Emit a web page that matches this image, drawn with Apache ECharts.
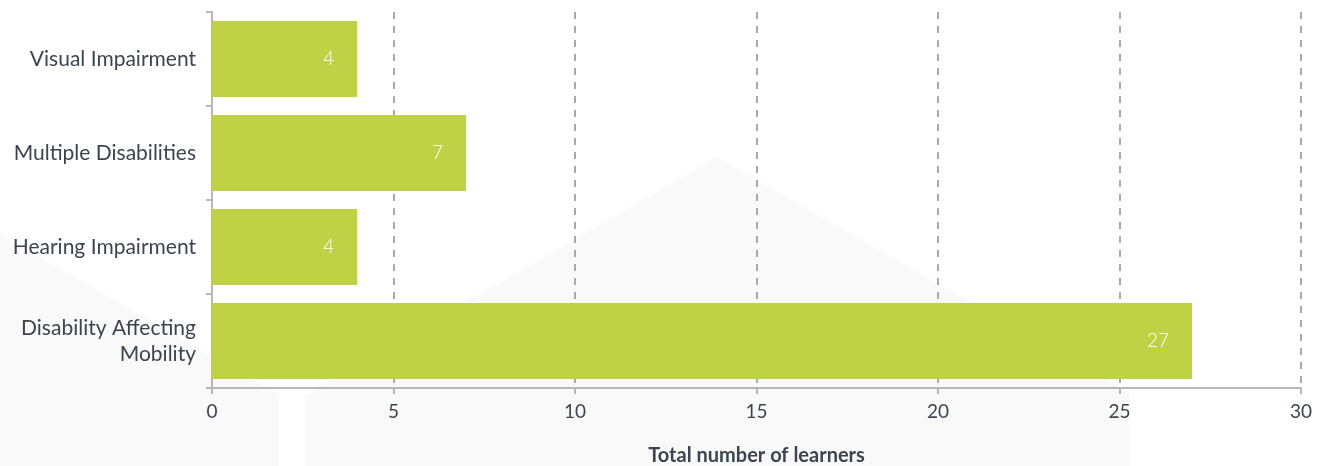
<!DOCTYPE html>
<html>
<head>
<meta charset="utf-8">
<script src="https://cdn.jsdelivr.net/npm/echarts@6/dist/echarts.min.js"></script>
<style>
  html, body { margin: 0; padding: 0; background: #ffffff; }
  #chart { width: 1322px; height: 466px; }
</style>
</head>
<body>
<div id="chart"></div>
<script>
// Learner counts by type of disability (listed top to bottom)
const categories = ['Visual Impairment', 'Multiple Disabilities', 'Hearing Impairment', 'Disability Affecting\nMobility'];
const learners = [4, 7, 4, 27];
const xTicks = [0, 5, 10, 15, 20, 25, 30];
const xAxisTitle = 'Total number of learners';

const textColor = '#3b4550';
const axisGrey = '#b7b7b7';
const barGreen = '#bfd245';
const font = 'Lato, "Open Sans", sans-serif';

const chart = echarts.init(document.getElementById('chart'), null, { renderer: 'canvas' });

chart.setOption({
  backgroundColor: '#ffffff',
  animation: false,
  // faint decorative shapes behind the plot
  graphic: [
    {
      type: 'polygon', z: -10, silent: true,
      shape: { points: [[0, 234], [279, 395], [279, 466], [0, 466]] },
      style: { fill: '#f9f9f9' }
    },
    {
      type: 'polygon', z: -10, silent: true,
      shape: { points: [[306, 395], [717, 157], [1129, 393], [1129, 466], [306, 466]] },
      style: { fill: '#f9f9f9' }
    }
  ],
  grid: { left: 212, right: 21, top: 12, bottom: 78, containLabel: false, outerBoundsMode: 'none' },
  xAxis: {
    type: 'value',
    min: xTicks[0],
    max: xTicks[xTicks.length - 1],
    interval: xTicks[1] - xTicks[0],
    name: xAxisTitle,
    nameLocation: 'middle',
    nameGap: 58,
    nameTextStyle: { color: textColor, fontFamily: font, fontSize: 20, fontWeight: 'bold' },
    axisLine: { show: true, lineStyle: { color: axisGrey, width: 2 } },
    axisTick: { show: true, length: 6, lineStyle: { color: axisGrey, width: 2 } },
    axisLabel: { color: textColor, fontFamily: font, fontSize: 19, margin: 14 },
    splitLine: { show: true, lineStyle: { color: '#a9a9a9', width: 2, type: [7, 7] } }
  },
  yAxis: {
    type: 'category',
    data: categories,
    inverse: true,
    axisLine: { show: true, lineStyle: { color: axisGrey, width: 2 } },
    axisTick: { show: true, length: 6, lineStyle: { color: axisGrey, width: 2 } },
    axisLabel: {
      color: textColor, fontFamily: font, fontSize: 21, margin: 16,
      align: 'right', lineHeight: 26
    },
    splitLine: { show: false }
  },
  series: [{
    type: 'bar',
    data: learners,
    barCategoryGap: '19%',
    itemStyle: { color: barGreen },
    label: {
      show: true,
      position: 'insideRight',
      distance: 23,
      color: '#ffffff',
      fontFamily: font,
      fontSize: 19,
      fontWeight: 300
    }
  }]
});
</script>
</body>
</html>
